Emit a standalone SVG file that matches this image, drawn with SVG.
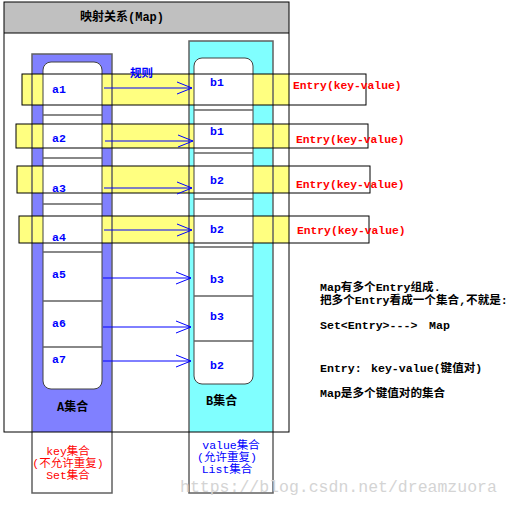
<svg xmlns="http://www.w3.org/2000/svg" width="510" height="506" viewBox="0 0 510 506">
<style>
.lbl{font-family:"Liberation Mono","Noto Sans CJK SC",monospace;font-weight:bold;font-size:11.5px;fill:#0000FF}
.ent{font-family:"Liberation Mono","Noto Sans CJK SC",monospace;font-weight:bold;font-size:11.3px;fill:#FF0000}
.note{font-family:"Liberation Mono","Noto Sans CJK SC",monospace;font-weight:bold;font-size:11.6px;fill:#000}
.cap{font-family:"Liberation Mono","Noto Sans CJK SC",monospace;font-weight:bold;font-size:12px;fill:#000}
.sub{font-family:"Liberation Mono","Noto Sans CJK SC",monospace;font-size:11.5px;text-anchor:middle}
.col{stroke:#606060;stroke-width:1.5}
.inner{fill:#fff;stroke:#404040;stroke-width:1}
.cell{stroke:#606060;stroke-width:1.5}
.band{fill:#FFFF80}
.bandline{fill:none;stroke:#000;stroke-width:1}
.arrow{stroke:#0000FF;stroke-width:1;fill:none;marker-end:url(#arr)}
</style>
<defs>
<marker id="arr" markerUnits="userSpaceOnUse" markerWidth="18" markerHeight="16" viewBox="-17 -8 18 16" refX="0" refY="0" orient="auto">
<path d="M-15,-6 L0,0 L-15,6" fill="none" stroke="#0000FF" stroke-width="1"/>
</marker>
</defs>
<rect width="510" height="506" fill="#fff"/>
<g id="map">
<rect x="4" y="2" width="285" height="31" fill="#C0C0C0"/>
<text x="80" y="21" class="cap" font-size="12.5">映射关系(Map)</text>
</g>
<g id="colA-fill">
<rect x="32" y="54" width="80" height="378" fill="#8080FF"/>
<rect x="32" y="432" width="80" height="61" fill="#fff"/>
</g>
<g id="colB-fill">
<rect x="189" y="41" width="84" height="391" fill="#80FFFF"/>
<rect x="189" y="432" width="84" height="61" fill="#fff"/>
</g>
<g id="band-fills">
<rect class="band" x="22" y="74" width="267" height="31"/>
<rect class="band" x="16" y="124" width="273" height="24"/>
<rect class="band" x="17" y="166" width="272" height="27"/>
<rect class="band" x="19" y="216" width="270" height="27"/>
</g>
<g id="colA" fill="none">
<rect class="col" x="32" y="54" width="80" height="439"/>
<rect class="inner" x="43" y="62" width="59" height="327" rx="8"/>
<g class="cell">
<line x1="43" y1="115" x2="102" y2="115"/>
<line x1="43" y1="158" x2="102" y2="158"/>
<line x1="43" y1="204" x2="102" y2="204"/>
<line x1="43" y1="252" x2="102" y2="252"/>
<line x1="43" y1="301" x2="102" y2="301"/>
<line x1="43" y1="347" x2="102" y2="347"/>
</g>
</g>
<g id="colB" fill="none">
<rect class="col" x="189" y="41" width="84" height="452"/>
<rect class="inner" x="194" y="58" width="59" height="326" rx="8"/>
<g class="cell">
<line x1="194" y1="110" x2="253" y2="110"/>
<line x1="194" y1="153" x2="253" y2="153"/>
<line x1="194" y1="199" x2="253" y2="199"/>
<line x1="194" y1="247" x2="253" y2="247"/>
<line x1="194" y1="296" x2="253" y2="296"/>
<line x1="194" y1="341" x2="253" y2="341"/>
</g>
</g>
<g id="map-border">
<rect x="4" y="2" width="285" height="430" fill="none" stroke="#000" stroke-width="1"/>
<line x1="4" y1="33" x2="289" y2="33" stroke="#000" stroke-width="1"/>
</g>
<g id="entry1">
<rect class="bandline" x="22" y="74" width="344" height="31"/>
<text class="ent" x="293" y="89">Entry(key-value)</text>
</g>
<g id="entry2">
<rect class="bandline" x="16" y="124" width="352" height="24"/>
<text class="ent" x="296" y="143">Entry(key-value)</text>
</g>
<g id="entry3">
<rect class="bandline" x="17" y="166" width="353" height="27"/>
<text class="ent" x="296" y="188">Entry(key-value)</text>
</g>
<g id="entry4">
<rect class="bandline" x="19" y="216" width="350" height="27"/>
<text class="ent" x="297" y="234">Entry(key-value)</text>
</g>
<g id="a-labels">
<text class="lbl" x="52" y="93">a1</text>
<text class="lbl" x="52" y="142">a2</text>
<text class="lbl" x="52" y="192">a3</text>
<text class="lbl" x="52" y="241">a4</text>
<text class="lbl" x="52" y="278">a5</text>
<text class="lbl" x="52" y="327">a6</text>
<text class="lbl" x="52" y="363">a7</text>
<text class="cap" x="57" y="411">A集合</text>
</g>
<g id="b-labels">
<text class="lbl" x="210" y="86">b1</text>
<text class="lbl" x="210" y="135">b1</text>
<text class="lbl" x="210" y="184">b2</text>
<text class="lbl" x="210" y="233">b2</text>
<text class="lbl" x="210" y="283">b3</text>
<text class="lbl" x="210" y="320">b3</text>
<text class="lbl" x="210" y="369">b2</text>
<text class="cap" x="206" y="405">B集合</text>
</g>
<g id="connectors">
<line class="arrow" x1="104" y1="88" x2="192" y2="88"/>
<line class="arrow" x1="105" y1="141" x2="193" y2="141"/>
<line class="arrow" x1="104" y1="188" x2="192" y2="188"/>
<line class="arrow" x1="104" y1="230" x2="192" y2="230"/>
<line class="arrow" x1="103" y1="278" x2="191" y2="278"/>
<line class="arrow" x1="103" y1="327" x2="191" y2="327"/>
<line class="arrow" x1="103" y1="361" x2="191" y2="361"/>
<text class="lbl" x="130" y="77">规则</text>
</g>
<g id="key-set">
<text class="sub" fill="#FF0000" x="68" y="455">key集合</text>
<text class="sub" fill="#FF0000" x="68" y="467">(不允许重复)</text>
<text class="sub" fill="#FF0000" x="68" y="479">Set集合</text>
</g>
<g id="value-set">
<text class="sub" fill="#0000FF" x="231" y="449">value集合</text>
<text class="sub" fill="#0000FF" x="227" y="461">(允许重复)</text>
<text class="sub" fill="#0000FF" x="227" y="473">List集合</text>
</g>
<g id="notes">
<text class="note" x="320" y="291">Map有多个Entry组成.</text>
<text class="note" x="320" y="304">把多个Entry看成一个集合,不就是:</text>
<text class="note" x="320" y="329">Set&lt;Entry&gt;---&gt;<tspan x="429">Map</tspan></text>
<text class="note" x="320" y="372">Entry:<tspan x="371">key-value(键值对)</tspan></text>
<text class="note" x="320" y="397">Map是多个键值对的集合</text>
</g>
<text x="180" y="492" font-family="Liberation Mono, monospace" font-size="16.5" fill="#d4d4d4">https://blog.csdn.net/dreamzuora</text>
</svg>
